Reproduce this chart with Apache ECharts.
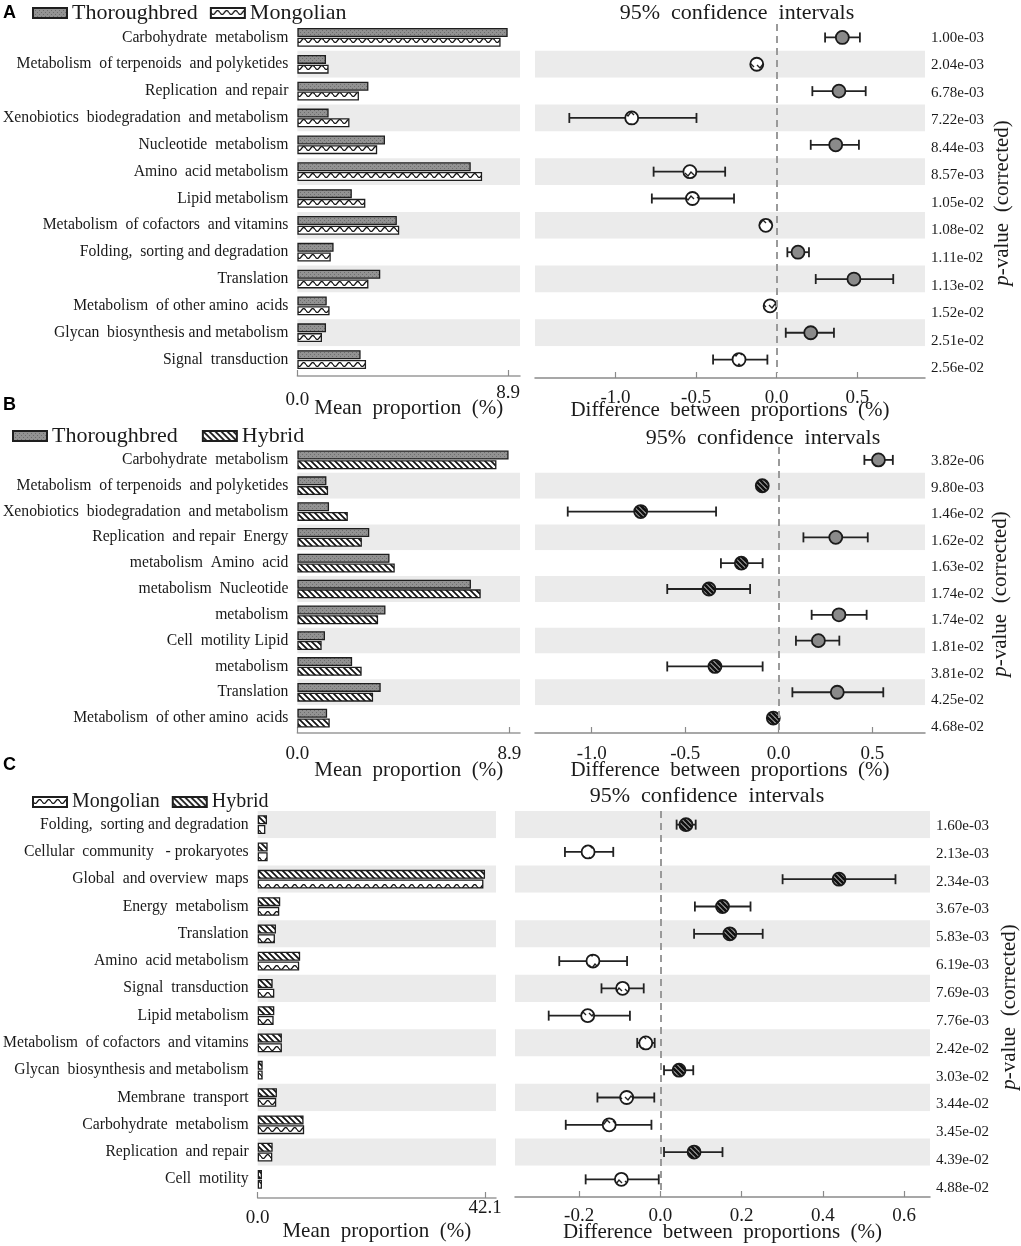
<!DOCTYPE html>
<html><head><meta charset="utf-8">
<script src="https://cdn.jsdelivr.net/npm/echarts@6/dist/echarts.min.js"></script>
<style>html,body{margin:0;padding:0;background:#fff}#c{width:1021px;height:1246px}</style>
</head><body><div id="c"></div>
<script>
// ===== Panel A : Thoroughbred vs Mongolian =====
const catsA = ['Carbohydrate  metabolism','Metabolism  of terpenoids  and polyketides','Replication  and repair','Xenobiotics  biodegradation  and metabolism','Nucleotide  metabolism','Amino  acid metabolism','Lipid metabolism','Metabolism  of cofactors  and vitamins','Folding,  sorting and degradation','Translation','Metabolism  of other amino  acids','Glycan  biosynthesis and metabolism','Signal  transduction'];
const thoroA = [8.88,1.21,3.0,1.32,3.7,7.32,2.3,4.2,1.53,3.5,1.24,1.21,2.67];
const mongoA = [8.58,1.32,2.6,2.2,3.37,7.8,2.87,4.3,1.41,3.0,1.36,1.04,2.9];
const diffA = [0.407,-0.124,0.386,-0.90,0.366,-0.539,-0.523,-0.068,0.132,0.479,-0.041,0.211,-0.234];
const lowA  = [0.30,-0.135,0.221,-1.287,0.211,-0.764,-0.775,-0.082,0.066,0.242,-0.05,0.056,-0.395];
const highA = [0.516,-0.113,0.552,-0.498,0.51,-0.32,-0.265,-0.055,0.20,0.723,-0.032,0.355,-0.058];
const pA = ['1.00e-03','2.04e-03','6.78e-03','7.22e-03','8.44e-03','8.57e-03','1.05e-02','1.08e-02','1.11e-02','1.13e-02','1.52e-02','2.51e-02','2.56e-02'];
const meanTicksA = [0, 8.9];
const diffTicksA = [-1.0, -0.5, 0.0, 0.5];

// ===== Panel B : Thoroughbred vs Hybrid =====
const catsB = ['Carbohydrate  metabolism','Metabolism  of terpenoids  and polyketides','Xenobiotics  biodegradation  and metabolism','Replication  and repair  Energy','metabolism  Amino  acid','metabolism  Nucleotide','metabolism','Cell  motility Lipid','metabolism','Translation','Metabolism  of other amino  acids'];
const thoroB = [8.87,1.22,1.33,3.02,3.87,7.29,3.70,1.16,2.30,3.5,1.25];
const hybridB = [8.36,1.29,2.12,2.71,4.09,7.7,3.39,1.02,2.70,3.18,1.36];
const diffB = [0.533,-0.088,-0.738,0.305,-0.20,-0.373,0.322,0.212,-0.341,0.313,-0.029];
const lowB  = [0.458,-0.10,-1.128,0.132,-0.309,-0.596,0.176,0.092,-0.596,0.073,-0.038];
const highB = [0.61,-0.077,-0.335,0.476,-0.086,-0.153,0.47,0.324,-0.086,0.559,-0.02];
const pB = ['3.82e-06','9.80e-03','1.46e-02','1.62e-02','1.63e-02','1.74e-02','1.74e-02','1.81e-02','3.81e-02','4.25e-02','4.68e-02'];
const meanTicksB = [0, 8.9];
const diffTicksB = [-1.0, -0.5, 0.0, 0.5];

// ===== Panel C : Mongolian vs Hybrid =====
const catsC = ['Folding,  sorting and degradation','Cellular  community   - prokaryotes','Global  and overview  maps','Energy  metabolism','Translation','Amino  acid metabolism','Signal  transduction','Lipid metabolism','Metabolism  of cofactors  and vitamins','Glycan  biosynthesis and metabolism','Membrane  transport','Carbohydrate  metabolism','Replication  and repair','Cell  motility'];
const hybridC = [1.72,1.84,42.1,4.17,3.38,7.86,2.77,3.07,4.48,0.92,3.56,8.49,2.77,0.79];
const mongoC  = [1.41,1.84,41.8,3.99,3.19,7.68,3.07,2.95,4.48,0.92,3.43,8.6,2.7,0.79];
const diffC = [0.063,-0.178,0.44,0.153,0.171,-0.166,-0.093,-0.179,-0.036,0.046,-0.083,-0.126,0.083,-0.096];
const lowC  = [0.04,-0.235,0.301,0.085,0.083,-0.249,-0.145,-0.275,-0.057,0.009,-0.155,-0.233,0.009,-0.184];
const highC = [0.087,-0.116,0.579,0.222,0.252,-0.082,-0.041,-0.075,-0.014,0.081,-0.015,-0.022,0.153,-0.004];
const pC = ['1.60e-03','2.13e-03','2.34e-03','3.67e-03','5.83e-03','6.19e-03','7.69e-03','7.76e-03','2.42e-02','3.03e-02','3.44e-02','3.45e-02','4.39e-02','4.88e-02'];
const meanTicksC = [0, 42.1];
const diffTicksC = [-0.2, 0.0, 0.2, 0.4, 0.6];

// ===== styles =====
const SERIF = '"Liberation Serif", "DejaVu Serif", serif';
const TXT = '#1a1a1a';
const BAND = '#ebebeb';
function cv(w,h,draw){const c=document.createElement('canvas');c.width=w;c.height=h;const g=c.getContext('2d');draw(g);return c;}
const dotted = {image: cv(4,4,g=>{g.fillStyle='#929292';g.fillRect(0,0,4,4);g.fillStyle='#6c6c6c';g.fillRect(0,0,1,1);g.fillRect(2,2,1,1);}), repeat:'repeat'};
const wave = {image: cv(9,9,g=>{g.fillStyle='#fff';g.fillRect(0,0,9,9);g.strokeStyle='#111';g.lineWidth=1.3;g.beginPath();for(let x=0;x<=9.01;x+=0.5){const y=4.5+2*Math.sin(2*Math.PI*x/9);if(x===0)g.moveTo(x,y);else g.lineTo(x,y);}g.stroke();}), repeat:'repeat'};
const waveDot = {image: cv(12,12,g=>{g.fillStyle='#fff';g.fillRect(0,0,12,12);g.strokeStyle='#222';g.lineWidth=1.4;g.beginPath();g.moveTo(1,5);g.lineTo(4,8);g.lineTo(7,4);g.lineTo(10,7);g.stroke();}), repeat:'repeat'};
const hatch = {image: cv(6,6,g=>{g.fillStyle='#fff';g.fillRect(0,0,6,6);g.strokeStyle='#111';g.lineWidth=1.7;g.beginPath();g.moveTo(-1,-1);g.lineTo(7,7);g.moveTo(-1,5);g.lineTo(1,7);g.moveTo(5,-1);g.lineTo(7,1);g.stroke();}), repeat:'repeat'};
const hatchDot = {image: cv(5,5,g=>{g.fillStyle='#fff';g.fillRect(0,0,5,5);g.strokeStyle='#111';g.lineWidth=3;g.beginPath();g.moveTo(-1,-1);g.lineTo(6,6);g.moveTo(-1,4);g.lineTo(1,6);g.moveTo(4,-1);g.lineTo(6,1);g.stroke();}), repeat:'repeat'};
const grayDot = '#8a8a8a';

const grids = [
  {left:295, top:24, width:225, height:349},   // 0 A bars
  {left:535, top:24, width:390, height:349},   // 1 A CI
  {left:294, top:447, width:226, height:284},  // 2 B bars
  {left:535, top:447, width:390, height:284},  // 3 B CI
  {left:257, top:811, width:239, height:382},  // 4 C bars
  {left:515, top:811, width:415, height:382},  // 5 C CI
  {left:925, top:24, width:1, height:358},     // 6 A p-values
  {left:925, top:448, width:1, height:292},    // 7 B p-values
  {left:930, top:812, width:1, height:390}     // 8 C p-values
];

function meanX(gi, max, ticks, offset, margin, loPad, nameGap){
  return {type:'value', gridIndex:gi, min:0, max:max, offset:offset,
    splitLine:{show:false},
    axisLine:{show:true, lineStyle:{color:'#9a9a9a', width:1.5}},
    axisTick:{show:true, inside:true, length:6, customValues:ticks, lineStyle:{color:'#8a8a8a', width:1.2}},
    axisLabel:{customValues:ticks, margin:margin, fontFamily:SERIF, fontSize:19, color:TXT,
      formatter:v=> v===0 ? '{lo|0.0}' : '{hi|'+v.toFixed(1)+'}',
      rich:{lo:{padding:[loPad,0,0,0], fontFamily:SERIF, fontSize:19, color:TXT}, hi:{fontFamily:SERIF, fontSize:19, color:TXT}}},
    name:'Mean  proportion  (%)', nameLocation:'middle', nameGap:nameGap, nameMoveOverlap:false,
    nameTextStyle:{fontFamily:SERIF, fontSize:21, color:TXT}};
}
function diffX(gi, min, max, ticks, offset, margin, nameGap){
  return {type:'value', gridIndex:gi, min:min, max:max, offset:offset,
    splitLine:{show:false},
    axisLine:{show:true, lineStyle:{color:'#8a8a8a', width:1.5}},
    axisTick:{show:true, inside:true, length:6, customValues:ticks, lineStyle:{color:'#8a8a8a', width:1.2}},
    axisLabel:{customValues:ticks, margin:margin, fontFamily:SERIF, fontSize:19, color:TXT, formatter:v=>v.toFixed(1)},
    name:'Difference  between  proportions  (%)', nameLocation:'middle', nameGap:nameGap, nameMoveOverlap:false,
    nameTextStyle:{fontFamily:SERIF, fontSize:21, color:TXT}};
}
function catY(gi, cats, bands, showLabels){
  return {type:'category', gridIndex:gi, data:cats, inverse:true,
    axisLine:{show:false}, axisTick:{show:false},
    axisLabel:{show:showLabels, margin:9, fontFamily:SERIF, fontSize:15.7, color:TXT, interval:0},
    splitLine:{show:false},
    splitArea:{show:true, areaStyle:{color:bands}}};
}
function pY(gi, labels, nameGap){
  return {type:'category', gridIndex:gi, data:labels, inverse:true, position:'right',
    axisLine:{show:false}, axisTick:{show:false}, splitLine:{show:false},
    axisLabel:{margin:5, fontFamily:SERIF, fontSize:15, color:TXT, interval:0},
    name:'{it|p}-value  (corrected)', nameLocation:'middle', nameRotate:90, nameGap:nameGap, nameMoveOverlap:false,
    nameTextStyle:{fontFamily:SERIF, fontSize:21, color:TXT,
      rich:{it:{fontFamily:SERIF, fontSize:21, fontStyle:'italic', color:TXT}}}};
}
function barS(name, gi, data, color){
  return {type:'bar', name:name, xAxisIndex:gi, yAxisIndex:gi, data:data,
    barWidth:9, barGap:'8%', silent:true, animation:false,
    itemStyle:{color:color, borderColor:'#1e1e1e', borderWidth:1.3}};
}
// error bar + marker, drawn through the axis scales
function ciS(gi, diff, low, high, posColor, negColor){
  return {type:'custom', xAxisIndex:gi, yAxisIndex:gi, silent:true, animation:false, z:3,
    data: low.map((l,i)=>[l, high[i], i, diff[i]]), encode:{x:[0,1,3], y:2},
    renderItem:(params, api)=>{
      const y = api.value(2), d = api.value(3);
      const a = api.coord([api.value(0), y]);
      const b = api.coord([api.value(1), y]);
      const c = api.coord([d, y]);
      const h = 5, st = {stroke:'#222', lineWidth:1.8};
      return {type:'group', children:[
        {type:'line', shape:{x1:a[0],y1:a[1],x2:b[0],y2:b[1]}, style:st},
        {type:'line', shape:{x1:a[0],y1:a[1]-h,x2:a[0],y2:a[1]+h}, style:st},
        {type:'line', shape:{x1:b[0],y1:b[1]-h,x2:b[0],y2:b[1]+h}, style:st},
        {type:'circle', shape:{cx:c[0], cy:c[1], r:6.5}, style:{fill: d>0 ? posColor : negColor, stroke:'#1a1a1a', lineWidth:1.8}}]};
    }};
}
// dashed zero reference line
function zeroS(gi){
  return {type:'scatter', xAxisIndex:gi, yAxisIndex:gi, silent:true, animation:false, symbolSize:0, data:[],
    markLine:{silent:true, symbol:'none', animation:false, label:{show:false},
      lineStyle:{type:[7,5], color:'#9a9a9a', width:2}, data:[{xAxis:0}]}};
}

const legendText = {fontFamily:SERIF, fontSize:22, color:TXT};
const option = {
  animation:false,
  backgroundColor:'#fff',
  grid: grids.map(g=>Object.assign({containLabel:false}, g)),
  xAxis: [
    meanX(0, 9.40, meanTicksA, 3, 8, 7, 22),
    diffX(1, -1.5, 0.92, diffTicksA, 5, 11, 22),
    meanX(2, 9.35, meanTicksB, 2, 12, 0, 27),
    diffX(3, -1.303, 0.782, diffTicksB, 2, 12, 27),
    meanX(4, 44.13, meanTicksC, 5, 1, 10, 23),
    diffX(5, -0.358, 0.664, diffTicksC, 4, 10, 25),
    {type:'value', gridIndex:6, show:false},
    {type:'value', gridIndex:7, show:false},
    {type:'value', gridIndex:8, show:false}
  ],
  yAxis: [
    catY(0, catsA, ['#fff', BAND], true),
    catY(1, catsA, ['#fff', BAND], false),
    catY(2, catsB, ['#fff', BAND], true),
    catY(3, catsB, ['#fff', BAND], false),
    catY(4, catsC, [BAND, '#fff'], true),
    catY(5, catsC, [BAND, '#fff'], false),
    pY(6, pA, 66),
    pY(7, pB, 64),
    pY(8, pC, 68)
  ],
  legend: [
    {left:32, top:2, padding:0, icon:'rect', itemWidth:34, itemHeight:10, itemGap:12, data:['Thoroughbred','Mongolian'], textStyle:legendText, selectedMode:false},
    {left:12, top:425, padding:0, icon:'rect', itemWidth:34, itemHeight:10, itemGap:24, data:['Thoroughbred','Hybrid'], textStyle:legendText, selectedMode:false},
    {left:32, top:792, padding:0, icon:'rect', itemWidth:34, itemHeight:10, itemGap:12, data:['Mongolian','Hybrid'], textStyle:{fontFamily:SERIF, fontSize:20, color:TXT}, selectedMode:false}
  ],
  graphic: [
    {type:'text', x:3, y:4, style:{text:'A', font:'bold 18px "Liberation Sans", Arial, sans-serif', fill:'#000'}},
    {type:'text', x:3, y:396, style:{text:'B', font:'bold 18px "Liberation Sans", Arial, sans-serif', fill:'#000'}},
    {type:'text', x:3, y:756, style:{text:'C', font:'bold 18px "Liberation Sans", Arial, sans-serif', fill:'#000'}},
    {type:'text', x:737, y:2, style:{text:'95%  confidence  intervals', font:'22px "Liberation Serif", serif', fill:TXT, textAlign:'center'}},
    {type:'text', x:763, y:427, style:{text:'95%  confidence  intervals', font:'22px "Liberation Serif", serif', fill:TXT, textAlign:'center'}},
    {type:'text', x:707, y:785, style:{text:'95%  confidence  intervals', font:'22px "Liberation Serif", serif', fill:TXT, textAlign:'center'}}
  ],
  series: [
    barS('Thoroughbred', 0, thoroA, dotted),
    barS('Mongolian', 0, mongoA, wave),
    zeroS(1),
    ciS(1, diffA, lowA, highA, grayDot, waveDot),
    barS('Thoroughbred', 2, thoroB, dotted),
    barS('Hybrid', 2, hybridB, hatch),
    zeroS(3),
    ciS(3, diffB, lowB, highB, grayDot, hatchDot),
    barS('Hybrid', 4, hybridC, hatch),
    barS('Mongolian', 4, mongoC, wave),
    zeroS(5),
    ciS(5, diffC, lowC, highC, hatchDot, waveDot)
  ]
};
const chart = echarts.init(document.getElementById('c'), null, {renderer:'canvas'});
chart.setOption(option);
</script>
</body></html>
